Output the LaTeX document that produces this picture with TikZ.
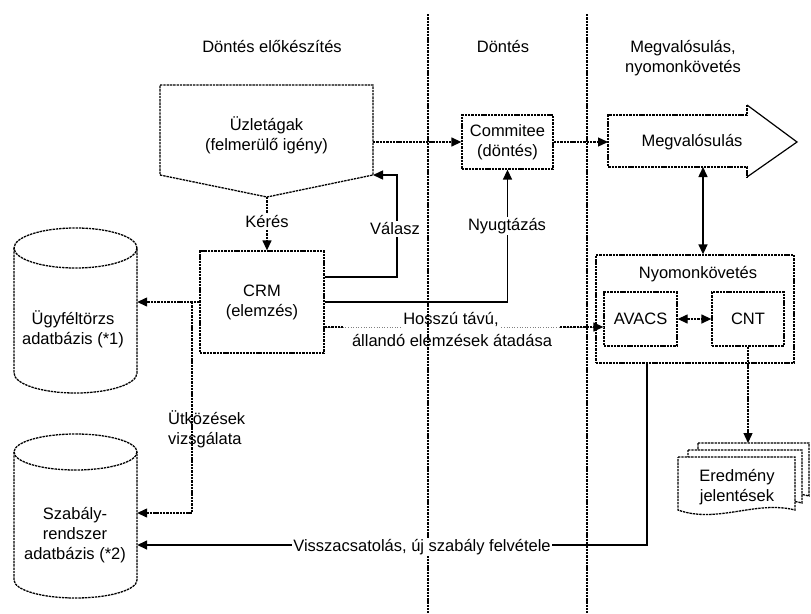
\documentclass[tikz,border=0pt]{standalone}
\usepackage{fontspec}
\setmainfont{Liberation Sans}
\usetikzlibrary{arrows.meta}
\begin{document}
\begin{tikzpicture}[x=1pt,y=-1pt,
  every node/.style={font=\fontsize{16.5}{20}\selectfont, align=center, inner sep=1pt},
  dsh/.style={line width=1.3pt, dash pattern=on 2.4pt off 0.9pt},
  sld/.style={line width=1.5pt},
  tip/.style={-{Triangle[length=10pt,width=9pt]}},
  dtip/.style={{Triangle[length=10pt,width=9pt]}-{Triangle[length=10pt,width=9pt]}},
  box/.style={draw, dsh, fill=white, inner sep=0pt},
  lbl/.style={fill=white, inner sep=1.5pt}]
\useasboundingbox (0,0) rectangle (811,613);

% column headings
\node (h1) at (272,47) {Döntés előkészítés};
\node (h2) at (503,47) {Döntés};
\node (h3) at (683,58) {Megvalósulás,\\nyomonkövetés};

% business units (pentagon)
\draw[dsh] (160,85) -- (373,85) -- (373,175) -- (267,197) -- (160,175) -- cycle;
\node (uzlet) at (266.5,135) {Üzletágak\\(felmerülő igény)};
\coordinate (uz-tip) at (267,197);
\coordinate (uz-se) at (373,175);
\coordinate (uz-e) at (373,142);

% decision box
\node[box, minimum width=91pt, minimum height=54pt] (comm) at (507.5,142) {Commitee\\(döntés)};

% implementation arrow
\draw[dsh] (747,105) -- (747,115) -- (608,115) -- (608,167) -- (747,167) -- (747,177);
\draw[line width=1.2pt, line join=miter] (747,105) -- (797,142) -- (747,177);
\node (megv) at (692,142) {Megvalósulás};
\coordinate (megv-w) at (608,142);
\coordinate (megv-s) at (703,167);

% monitoring group
\node[box, minimum width=198pt, minimum height=108pt] (nyom) at (695,309) {};
\node (nyomlbl) at (698,274) {Nyomonkövetés};
\node[box, minimum width=73pt, minimum height=54pt] (avacs) at (640.5,319) {AVACS};
\node[box, minimum width=72pt, minimum height=54pt] (cnt) at (748,319) {CNT};

% CRM
\node[box, minimum width=124pt, minimum height=102pt] (crm) at (262,302) {CRM\\(elemzés)};

% databases
\draw[dsh, fill=white] (14,248) -- (14,373) arc[start angle=180, end angle=0, x radius=61.5, y radius=20] -- (137,248);
\draw[dsh] (75.5,248) ellipse[x radius=61.5, y radius=20];
\node[minimum width=123pt, minimum height=165pt] (db1) at (75.5,310) {};
\node at (73,329) {Ügyféltörzs\\adatbázis (*1)};

\draw[dsh, fill=white] (14,452) -- (14,580) arc[start angle=180, end angle=0, x radius=61.5, y radius=18] -- (137,452);
\draw[dsh] (75.5,452) ellipse[x radius=61.5, y radius=18];
\node[minimum width=123pt, minimum height=163pt] (db2) at (75.5,516) {};
\node at (75,535) {Szabály-\\rendszer\\adatbázis (*2)};

% report stack
\draw[dsh, fill=white] (698,443) -- (809,443) -- (809,496) .. controls (772,486) and (735,510) .. (698,496) -- cycle;
\draw[dsh, fill=white] (688,450) -- (802,450) -- (802,503) .. controls (764,493) and (726,517) .. (688,503) -- cycle;
\draw[dsh, fill=white] (678,457) -- (795,457) -- (795,510) .. controls (756,500) and (717,524) .. (678,510) -- cycle;
\node (doc) at (737,487) {Eredmény\\jelentések};
\coordinate (doc-top) at (748,443);

% connectors
\draw[dsh, tip] (uz-e) -- (comm.west);
\draw[dsh, tip] (comm.east) -- (megv-w);
\draw[sld, dtip] (megv-s) -- (megv-s |- nyom.north);
\draw[dsh, dtip] (avacs.east) -- (cnt.west);
\draw[dsh, tip] (cnt.south) -- (doc-top);

\draw[dsh, tip] (uz-tip) -- (uz-tip |- crm.north);
\node[lbl] (kl) at (267,222) {Kérés};

\coordinate (va) at (397,277);
\draw[sld, tip] (crm.east |- va) -| (va |- uz-se) -- (uz-se);
\node[lbl] (vl) at (395,229) {Válasz};

\coordinate (ny) at (0,302);
\draw[sld, tip] (crm.east |- ny) -| (comm.south);
\node[lbl] (nl) at (507,226) {Nyugtázás};

% long-term analyses handed over
\coordinate (hl) at (0,327);
\draw[line width=0.6pt, gray, dotted] (crm.east |- hl) -- (avacs.west |- hl);
\draw[dsh] (crm.east |- hl) -- (343,327);
\draw[dsh, tip] (560,327) -- (avacs.west |- hl);
\node[lbl] (hl1) at (451,319) {Hosszú távú,};
\node (hl2) at (452,341) {állandó elemzések átadása};

% customer / rule databases
\coordinate (br) at (192,302);
\draw[dsh, tip] (crm.west) -- (crm.west -| db1.east);
\coordinate (ut) at (0,513);
\draw[dsh, tip] (br) |- (db2.east |- ut);
\node[anchor=west, align=left] (utk) at (167,429) {Ütközések\\vizsgálata};

% feedback
\coordinate (fb) at (647,545);
\draw[sld, tip] (nyom.south -| fb) |- (db2.east |- fb);

% column separators
\draw[dsh] (428,14) -- (428,613);
\draw[dsh] (587,14) -- (587,613);

\node[lbl] (fbl) at (422,547) {Visszacsatolás, új szabály felvétele};
\end{tikzpicture}
\end{document}
